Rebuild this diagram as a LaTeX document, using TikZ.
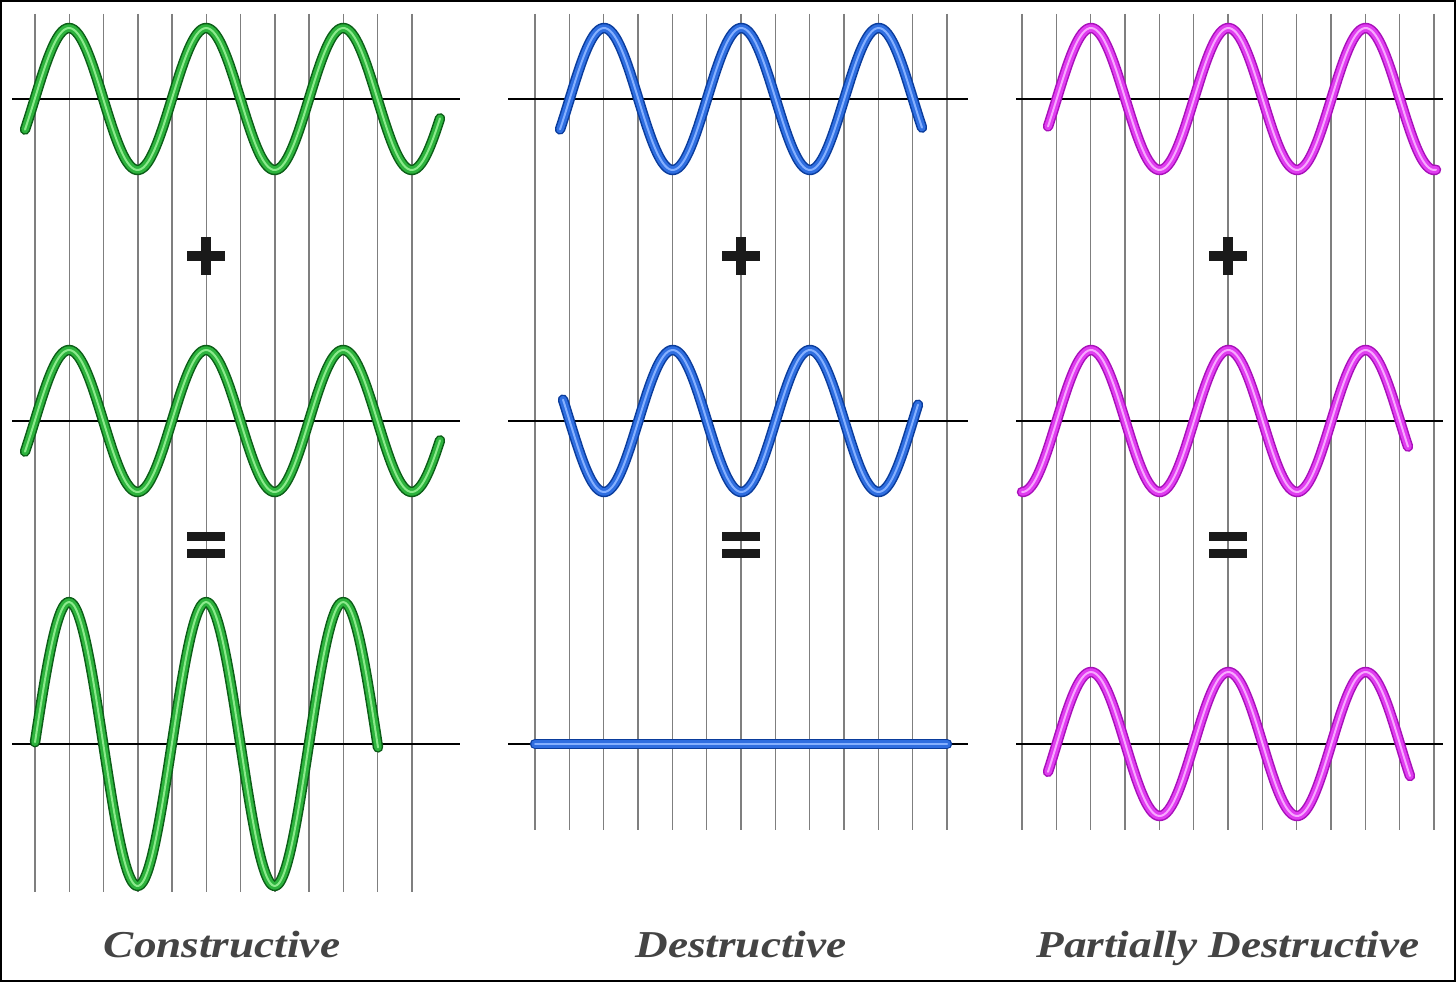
\documentclass[tikz,border=0pt]{standalone}
\usepackage{fontspec}
\newfontfamily\labelfont[FakeStretch=1.19]{Liberation Serif}
\definecolor{gdark}{HTML}{0B5E17}
\definecolor{gmid}{HTML}{2DB33D}
\definecolor{glight}{HTML}{8BEA8C}
\definecolor{bdark}{HTML}{0A3C9C}
\definecolor{bmid}{HTML}{2F6EE0}
\definecolor{blight}{HTML}{85B0FF}
\definecolor{mdark}{HTML}{A810BA}
\definecolor{mmid}{HTML}{E03DF0}
\definecolor{mlight}{HTML}{F8A8FF}
\definecolor{gridgray}{HTML}{7F7F7F}
\definecolor{labelgray}{HTML}{444444}
\definecolor{signcol}{HTML}{1A1A1A}
\tikzset{
  gridline/.style={draw=gridgray, line width=1.5pt},
  axisline/.style={draw=black, line width=1.5pt},
  tube/.style n args={3}{draw=#1, line width=10.5pt, line cap=round, line join=round,
     postaction={draw=#2, line width=7.5pt, line cap=round, line join=round},
     postaction={draw=#3, line width=2pt, line cap=round, line join=round}},
  greentube/.style={tube={gdark}{gmid}{glight}},
  bluetube/.style={tube={bdark}{bmid}{blight}},
  magtube/.style={tube={mdark}{mmid}{mlight}},
  signbar/.style={fill=signcol, draw=none},
  paneltitle/.style={font=\labelfont\fontsize{38}{41}\selectfont\bfseries\itshape, text=labelgray, anchor=base, inner sep=0pt}
}
\begin{document}
\begin{tikzpicture}[x=1pt, y=-1pt]
\useasboundingbox (0,0) rectangle (1456,982);
\fill[white] (0,0) rectangle (1456,982);
\draw[black, line width=2pt] (1,1) rectangle (1455,981);
% grid lines
\foreach \i in {0,...,11} { \draw[gridline] ({35+34.27*\i},14) -- ({35+34.27*\i},892); }
\foreach \i in {0,...,12} { \draw[gridline] ({535+34.33*\i},14) -- ({535+34.33*\i},830); }
\foreach \i in {0,...,12} { \draw[gridline] ({1022+34.33*\i},14) -- ({1022+34.33*\i},830); }
% axes
\foreach \yy in {99,421,744} {
  \draw[axisline] (12,\yy) -- (460,\yy);
  \draw[axisline] (508,\yy) -- (968,\yy);
  \draw[axisline] (1016,\yy) -- (1443,\yy);
}
% constructive
\draw[greentube] plot[domain=25:440, samples=180, smooth] (\x, {99-71*cos((\x-69)*2.62582)});
\draw[greentube] plot[domain=25:440, samples=180, smooth] (\x, {421-71*cos((\x-69)*2.62582)});
\draw[greentube] plot[domain=35:378, samples=160, smooth] (\x, {744-142*cos((\x-69)*2.62582)});
% destructive
\draw[bluetube] plot[domain=560:922, samples=160, smooth] (\x, {99-71*cos((\x-604)*2.62200)});
\draw[bluetube] plot[domain=563:918, samples=160, smooth] (\x, {421+71*cos((\x-604)*2.62200)});
\draw[bluetube] (535,744) -- (947,744);
% partially destructive
\draw[magtube] plot[domain=1048:1436, samples=170, smooth] (\x, {99-71*cos((\x-1091)*2.62200)});
\draw[magtube] plot[domain=1022:1408, samples=170, smooth] (\x, {421-71*cos((\x-1091)*2.62200)});
\draw[magtube] plot[domain=1048:1410, samples=160, smooth] (\x, {744-72*cos((\x-1091)*2.62200)});
% plus and equals signs
\foreach \cx in {206,741,1228} {
  \fill[signbar] (\cx-19,251) rectangle (\cx+19,261);
  \fill[signbar] (\cx-4.7,237) rectangle (\cx+4.7,275);
  \fill[signbar] (\cx-19,532) rectangle (\cx+19,541);
  \fill[signbar] (\cx-19,549) rectangle (\cx+19,558);
}
% labels
\node[paneltitle] (lc) at (222,957) {Constructive};
\node[paneltitle] (ld) at (741,957) {Destructive};
\node[paneltitle] (lp) at (1228,957) {Partially Destructive};
\end{tikzpicture}
\end{document}
